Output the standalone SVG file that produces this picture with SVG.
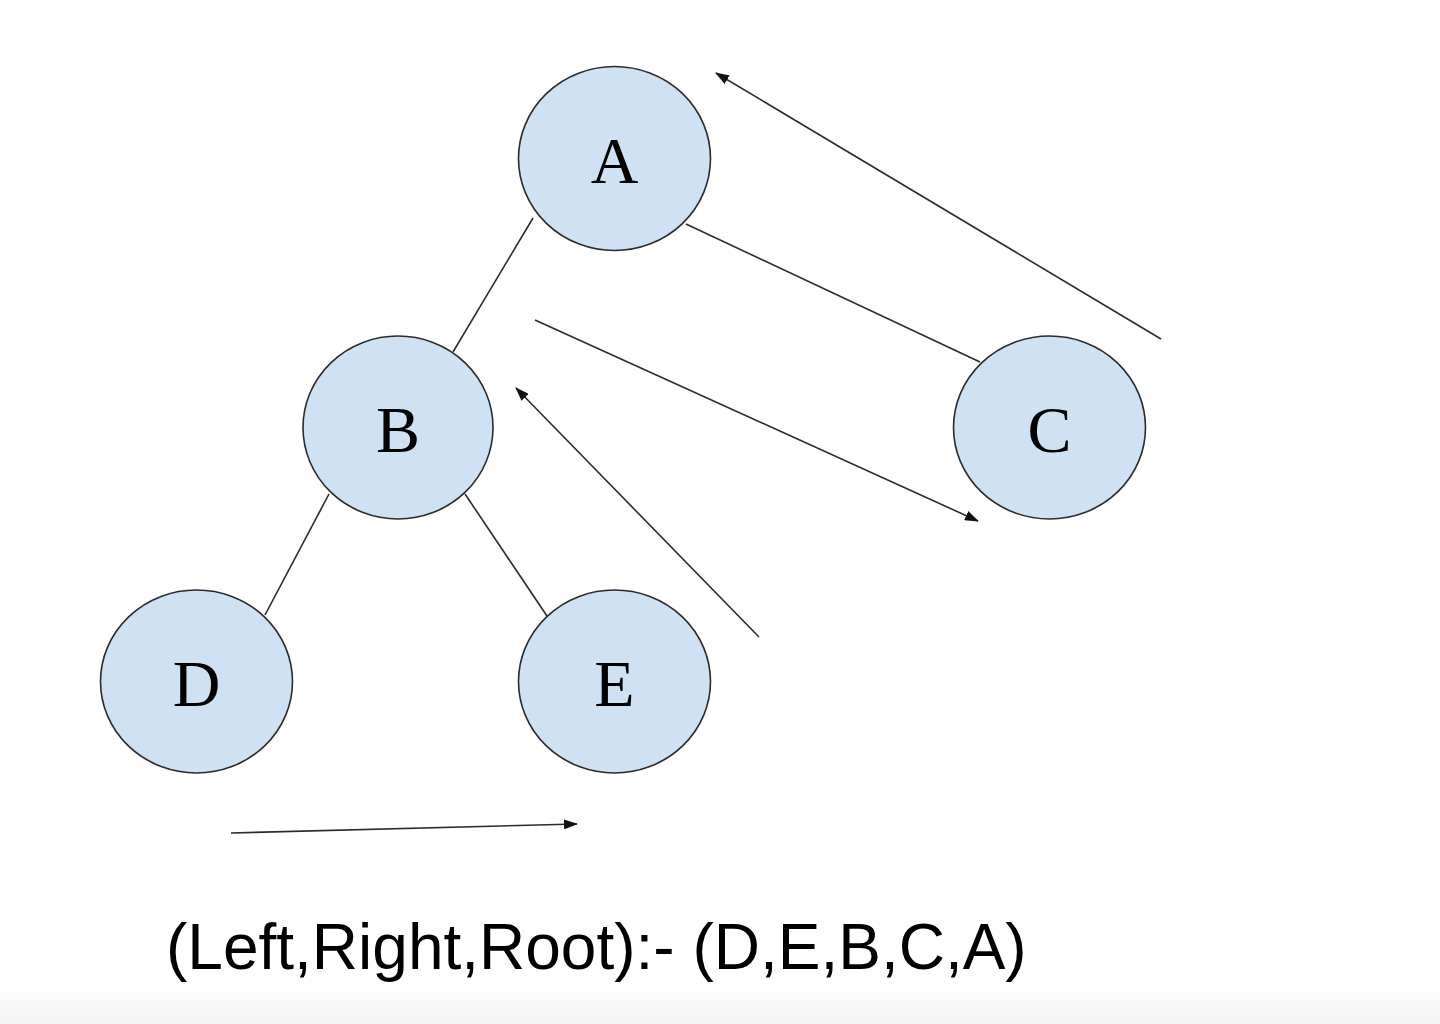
<svg xmlns="http://www.w3.org/2000/svg" width="1440" height="1024" viewBox="0 0 1440 1024">
<style>
.node{fill:#cfe2f3;stroke:#2b2b2b;stroke-width:1.6}
.lbl{font-family:"Liberation Serif","Times New Roman",serif;font-size:66px;fill:#000;text-anchor:middle}
.edge{stroke:#2b2b2b;stroke-width:1.6;fill:none}
.arr{stroke:#2b2b2b;stroke-width:1.6;fill:none;marker-end:url(#ah)}
.cap{font-family:"Liberation Sans",Arial,sans-serif;font-size:64px;fill:#000}
</style>
<defs>
<marker id="ah" markerUnits="userSpaceOnUse" markerWidth="14" markerHeight="10" refX="13" refY="5" orient="auto">
<path d="M0,0 L14,5 L0,10 Z" fill="#111"/>
</marker>
<linearGradient id="bg" x1="0" y1="0" x2="0" y2="1">
<stop offset="0" stop-color="#ffffff"/>
<stop offset="1" stop-color="#f4f4f4"/>
</linearGradient>
</defs>
<rect width="1440" height="1024" fill="#fff"/>
<rect x="0" y="980" width="1440" height="44" fill="url(#bg)"/>
<g id="connectors">
<line class="edge" x1="533" y1="218" x2="453" y2="352"/>
<line class="edge" x1="686" y1="224" x2="980" y2="362"/>
<line class="edge" x1="329" y1="494" x2="265" y2="615"/>
<line class="edge" x1="465" y1="494" x2="547" y2="616"/>
<line class="arr" x1="1161" y1="339" x2="716" y2="73"/>
<line class="arr" x1="535" y1="320" x2="978" y2="521"/>
<line class="arr" x1="759" y1="637" x2="516" y2="388"/>
<line class="arr" x1="231" y1="833" x2="577" y2="824"/>
</g>
<g id="A"><ellipse class="node" cx="614.5" cy="158.5" rx="96" ry="92"/><text class="lbl" x="614.5" y="183">A</text></g>
<g id="B"><ellipse class="node" cx="398" cy="427.5" rx="95" ry="91.5"/><text class="lbl" x="398" y="452">B</text></g>
<g id="C"><ellipse class="node" cx="1049.5" cy="427.5" rx="96" ry="91.5"/><text class="lbl" x="1049.5" y="452">C</text></g>
<g id="D"><ellipse class="node" cx="196.5" cy="681.5" rx="96" ry="91.5"/><text class="lbl" x="196.5" y="706">D</text></g>
<g id="E"><ellipse class="node" cx="614.5" cy="681.5" rx="96" ry="91.5"/><text class="lbl" x="614.5" y="706">E</text></g>
<text class="cap" x="166" y="969">(Left,Right,Root):- (D,E,B,C,A)</text>
</svg>
